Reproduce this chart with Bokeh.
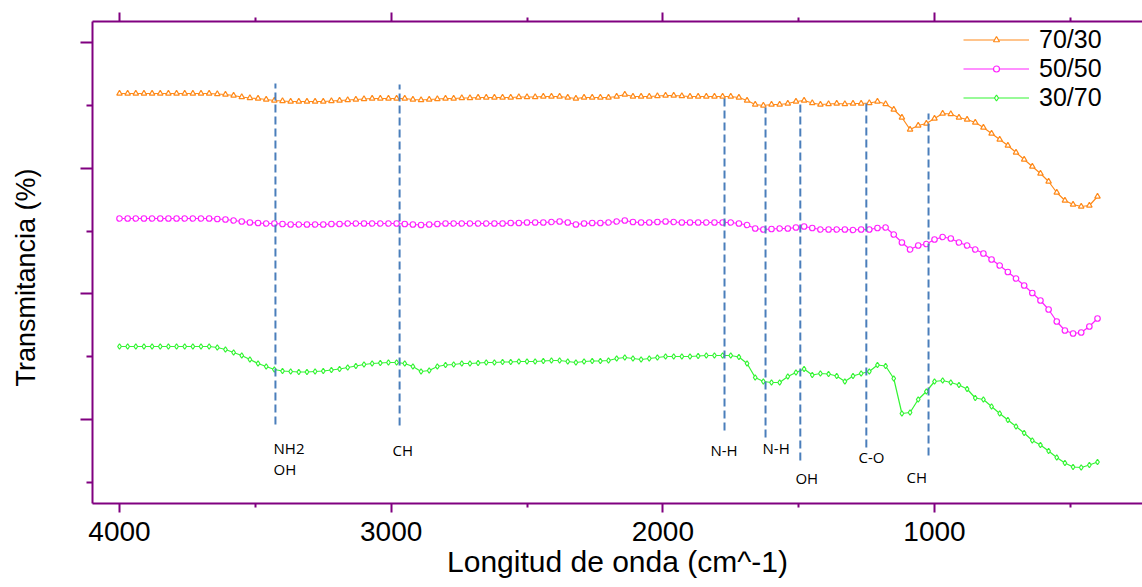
from bokeh.plotting import figure
from bokeh.models import (Range1d, LinearAxis, FixedTicker, Legend, LegendItem,
                          CustomJSTickFormatter)
from bokeh.core.properties import value
from bokeh.embed import file_html
from bokeh.resources import INLINE

# wavenumber grid (cm^-1), every 30 cm^-1 from 4000 to 400
wavenumber = list(range(4000, 399, -30))

t_70_30 = [
    82.0, 82.0, 82.0, 82.0, 82.0, 82.0, 82.0, 82.0, 82.0, 82.0, 82.0, 82.0,
    81.9, 81.8, 81.6, 81.3, 81.1, 81.0, 80.8, 80.6, 80.5, 80.4, 80.4, 80.4,
    80.4, 80.4, 80.5, 80.6, 80.7, 80.8, 80.9, 81.0, 81.0, 81.0, 81.0, 81.0,
    80.8, 80.7, 80.8, 80.9, 81.0, 81.0, 81.1, 81.1, 81.2, 81.2, 81.2, 81.2,
    81.2, 81.3, 81.3, 81.3, 81.4, 81.4, 81.4, 81.2, 81.0, 81.2, 81.2, 81.2,
    81.2, 81.4, 81.8, 81.4, 81.4, 81.4, 81.5, 81.6, 81.6, 81.5, 81.4, 81.4,
    81.4, 81.4, 81.4, 81.4, 81.2, 80.6, 79.8, 79.6, 79.8, 79.8, 80.0, 80.4,
    80.6, 80.1, 79.8, 79.9, 80.0, 79.9, 80.0, 80.0, 80.1, 80.4, 79.9, 78.8,
    77.2, 74.8, 75.6, 76.0, 77.0, 78.0, 77.9, 77.2, 76.8, 76.2, 75.2, 74.0,
    72.8, 71.6, 70.2, 68.8, 67.4, 66.0, 64.4, 62.2, 60.6, 59.8, 59.4, 59.6,
    61.4,
]

t_50_50 = [
    57.0, 57.0, 57.0, 57.0, 57.0, 57.0, 57.0, 57.0, 57.0, 57.0, 57.0, 57.0,
    56.9, 56.8, 56.6, 56.4, 56.2, 56.1, 56.0, 56.0, 55.9, 55.8, 55.8, 55.8,
    55.8, 55.8, 55.9, 55.9, 56.0, 56.0, 56.0, 56.0, 56.0, 56.0, 56.0, 55.9,
    55.8, 55.7, 55.8, 55.9, 56.0, 56.0, 56.0, 56.0, 56.0, 56.0, 56.0, 56.0,
    56.1, 56.1, 56.2, 56.2, 56.2, 56.3, 56.4, 56.2, 55.8, 56.0, 56.1, 56.1,
    56.2, 56.4, 56.6, 56.3, 56.2, 56.2, 56.3, 56.4, 56.3, 56.2, 56.2, 56.2,
    56.2, 56.2, 56.2, 56.2, 56.0, 55.7, 55.0, 54.8, 54.9, 55.0, 55.0, 55.2,
    55.4, 55.1, 54.8, 54.8, 54.8, 54.8, 54.7, 54.8, 54.8, 55.1, 55.2, 53.8,
    52.2, 50.8, 51.6, 51.9, 52.8, 53.3, 53.0, 52.2, 51.6, 50.8, 50.0, 48.8,
    47.6, 46.3, 45.0, 43.6, 42.1, 40.6, 38.8, 36.4, 34.6, 34.0, 34.2, 35.4,
    37.0,
]

t_30_70 = [
    31.4, 31.4, 31.4, 31.4, 31.4, 31.4, 31.4, 31.4, 31.4, 31.4, 31.4, 31.4,
    31.2, 30.8, 30.2, 29.6, 28.8, 28.0, 27.4, 26.8, 26.5, 26.4, 26.3, 26.3,
    26.4, 26.5, 26.7, 26.9, 27.2, 27.5, 27.8, 28.0, 28.1, 28.2, 28.2, 28.0,
    27.4, 26.4, 26.6, 27.4, 27.7, 27.8, 28.0, 28.0, 28.1, 28.2, 28.2, 28.3,
    28.3, 28.4, 28.4, 28.4, 28.5, 28.6, 28.6, 28.4, 28.2, 28.4, 28.5, 28.5,
    28.6, 29.0, 29.2, 29.0, 28.8, 29.0, 29.2, 29.4, 29.4, 29.4, 29.4, 29.5,
    29.6, 29.6, 29.6, 29.6, 29.3, 28.0, 25.2, 24.4, 24.2, 24.2, 25.4, 26.2,
    26.9, 25.7, 26.0, 25.9, 25.5, 24.4, 25.5, 26.0, 26.4, 27.7, 27.5, 25.0,
    18.0, 18.2, 20.8, 22.4, 24.4, 24.6, 24.2, 23.7, 22.9, 21.1, 20.8, 19.4,
    18.0, 16.7, 15.4, 14.1, 12.6, 11.7, 10.5, 9.2, 8.1, 7.3, 7.2, 7.7,
    8.3,
]

series_names = ["70/30", "50/50", "30/70"]
series_colors = ["#FF8A1A", "#FF22FF", "#33F533"]
series_markers = ["triangle", "circle", "diamond"]

band_positions = [3426, 2969, 1773, 1622, 1494, 1251, 1022]
band_top = [84.0, 83.8, 81.6, 79.2, 80.0, 80.6, 78.0]
band_bottom = [15.8, 15.6, 14.6, 13.2, 8.6, 11.2, 9.6]

band_labels = ["NH2", "OH", "CH", "N-H", "N-H", "OH", "C-O", "CH"]
label_x = [3433, 3433, 2995, 1825, 1633, 1512, 1280, 1103]
label_y = [11.2, 7.0, 10.8, 10.8, 11.2, 5.2, 9.4, 5.4]

x_major = [4000, 3000, 2000, 1000]
x_minor = [3500, 2500, 1500, 500]
y_major = [92.2, 67.06, 41.92, 16.78]
y_minor = [79.63, 54.49, 29.35, 4.21]

x_title = "Longitud de onda (cm^-1)"
y_title = "Transmitancia (%)"

AX = "#800080"

p = figure(width=1142, height=587, output_backend="svg", toolbar_location=None,
           x_range=Range1d(4099.4, 234.4), y_range=Range1d(0, 96.4),
           min_border_left=92, min_border_right=0, min_border_top=21,
           min_border_bottom=84)
p.outline_line_color = None
p.xgrid.visible = False
p.ygrid.visible = False
p.background_fill_color = "white"

xa = p.xaxis[0]
xa.ticker = FixedTicker(ticks=x_major, minor_ticks=x_minor)
xa.major_label_text_font = "Liberation Sans"
xa.major_label_text_font_size = "28px"
xa.major_label_text_color = "black"
xa.major_label_standoff = 9
xa.axis_label = x_title
xa.axis_label_text_font = "Liberation Sans"
xa.axis_label_text_font_size = "30px"
xa.axis_label_text_font_style = "normal"
xa.axis_label_text_color = "black"
xa.axis_label_standoff = 1

ya = p.yaxis[0]
ya.ticker = FixedTicker(ticks=y_major, minor_ticks=y_minor)
ya.formatter = CustomJSTickFormatter(code="return '';")
ya.major_label_standoff = 0
ya.axis_label = y_title + "\u00a0\u00a0\u00a0\u00a0"
ya.axis_label_text_font = "Liberation Sans"
ya.axis_label_text_font_size = "27px"
ya.axis_label_text_font_style = "normal"
ya.axis_label_text_color = "black"
ya.axis_label_standoff = 40

top = LinearAxis(ticker=FixedTicker(ticks=x_major, minor_ticks=x_minor),
                 formatter=CustomJSTickFormatter(code="return '';"))
top.major_label_standoff = 0
p.add_layout(top, "above")

for ax in (xa, ya, top):
    ax.axis_line_color = AX
    ax.axis_line_width = 2
    ax.major_tick_line_color = AX
    ax.major_tick_line_width = 2
    ax.minor_tick_line_color = AX
    ax.minor_tick_line_width = 2
    ax.major_tick_in = 0
    ax.minor_tick_in = 0
for ax in (xa, top):
    ax.major_tick_out = 9
    ax.minor_tick_out = 4
ya.major_tick_out = 12
ya.minor_tick_out = 6

series = [t_70_30, t_50_50, t_30_70]
items = []
for name, ys, col, mk in zip(series_names, series, series_colors, series_markers):
    ln = p.line(wavenumber, ys, line_color=col, line_width=1.2)
    sc = p.scatter(wavenumber, ys, marker=mk, size=5.5, line_color=col,
                   fill_color="white", line_width=1.2)
    items.append(LegendItem(label=name, renderers=[ln, sc]))

p.segment(x0=band_positions, y0=band_bottom, x1=band_positions, y1=band_top,
          line_color="#4A7EBB", line_width=2, line_dash="8 4")

p.text(x=label_x, y=label_y, text=band_labels, text_font=value("Open Sans"),
       text_font_size="15px", text_color="black", text_align="left",
       text_baseline="middle")

legend = Legend(items=items, location=(871, 391.5))
legend.border_line_color = None
legend.background_fill_alpha = 0
legend.padding = 0
legend.margin = 0
legend.spacing = 0
legend.glyph_width = 66
legend.glyph_height = 15
legend.label_height = 27
legend.label_standoff = 10
legend.label_text_font = "Liberation Sans"
legend.label_text_font_size = "25px"
legend.label_text_color = "black"
legend.label_text_baseline = "middle"
p.add_layout(legend)

open("out.html", "w").write(file_html(p, INLINE))
